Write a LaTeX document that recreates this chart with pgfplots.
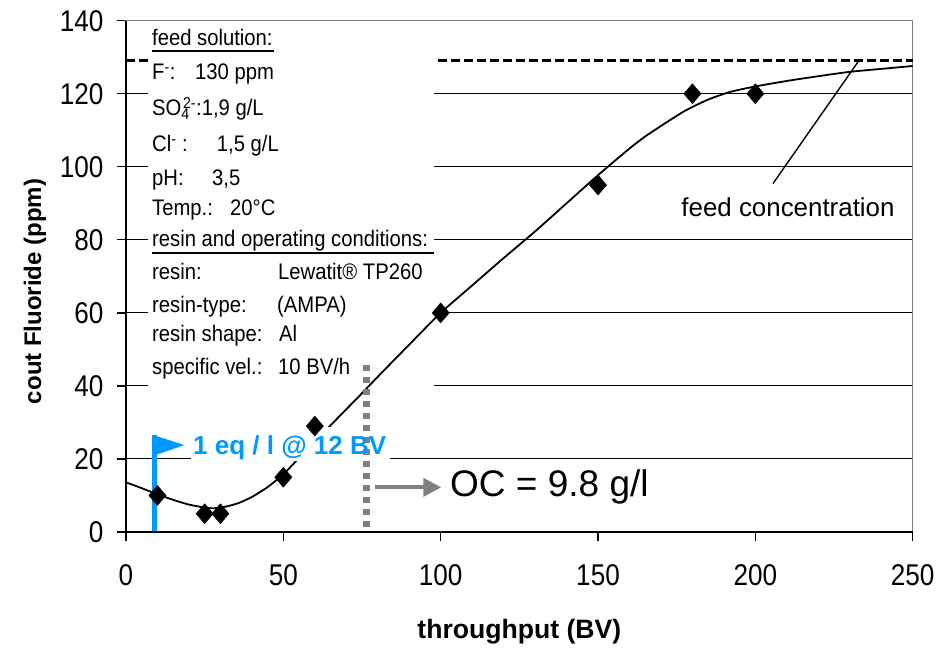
\documentclass[border=0pt]{standalone}
\usepackage{fontspec}
\setmainfont{Liberation Sans}
\newfontfamily\narrowfont[FakeStretch=0.87]{Liberation Sans}
\newfontfamily\boxfont[FakeStretch=0.9]{Liberation Sans}
\usepackage{pgfplots}
\pgfplotsset{compat=1.18}
\usetikzlibrary{arrows.meta}
\definecolor{flagblue}{RGB}{0,153,255}
\definecolor{dgray}{RGB}{128,128,128}
\newcommand{\bx}{\boxfont\fontsize{22.5}{26}\selectfont}
\begin{document}
\begin{tikzpicture}
\begin{axis}[
  at={(0,0)}, anchor=south west,
  scale only axis, width=786.7pt, height=511.3pt,
  xmin=0, xmax=250, ymin=0, ymax=140,
  xtick={0,50,...,250}, ytick={0,20,...,140},
  tick align=outside, tick pos=left,
  major tick length=9pt,
  ymajorgrids, grid style={black, line width=1pt},
  axis line style={dgray, line width=1.3pt},
  tick style={black, line width=1.3pt},
  ticklabel style={font=\narrowfont\fontsize{30}{30}\selectfont},
  /pgf/number format/assume math mode=true,
  xticklabel style={yshift=-20pt},
  yticklabel style={xshift=-10pt},
  xlabel={throughput (BV)},
  ylabel={cout Fluoride (ppm)},
  xlabel style={font=\bfseries\fontsize{26.6}{26.6}\selectfont, at={([yshift=-100pt]rel axis cs:0.5,0)}, anchor=center},
  ylabel style={font=\bfseries\fontsize{24}{24}\selectfont, at={([xshift=-91pt,yshift=-15pt]rel axis cs:0,0.5)}, anchor=center},
  clip=false,
]
% feed concentration line
\addplot[black, line width=3pt, dash pattern=on 9pt off 4pt] coordinates {(0,129.2) (250,129.2)};
% text box background
\fill[white] (axis cs:7,38.3) rectangle (axis cs:97.9,139.6);
% fitted curve
\addplot[black, line width=1.8pt, smooth, tension=0.4] coordinates {
(0,13.6) (5,12) (10,10.3) (15,8.8) (20,7.5) (25,6.7) (28,6.5) (32,7) (36,8) (40,9.6)
(45,12.3) (50,15.8) (55,20.3) (60,24.8) (65,29.2) (70,33.6) (75,38) (80,42.5) (90,51.3)
(100,60) (110,67.5) (120,75) (130,82.3) (140,90) (150,97.7) (160,105) (165,108.3)
(172,112.3) (178,115.5) (185,118.4) (192,120.5) (200,122) (210,123.5) (220,124.8)
(230,126) (240,126.8) (250,127.6)};
% measured points
\addplot[only marks, mark=diamond*, mark size=10pt, mark options={black, xscale=1.15}] coordinates {
(10,10) (25,5) (30,5) (50,15) (60,29) (100,60) (150,95) (180,120) (200,120)};
% label background
\fill[white] (axis cs:20.66,19.44) rectangle (axis cs:83.9,28.75);
% grey dotted line
\draw[dgray, line width=6.5pt, dash pattern=on 6pt off 6pt] (axis cs:76.4,1.4) -- (axis cs:76.4,47.1);
% blue flag
\node[anchor=base west, text=flagblue, font=\bfseries\fontsize{26}{26}\selectfont, inner sep=0pt]
  at ([xshift=67pt,yshift=77pt]rel axis cs:0,0) {1 eq / l @ 12 BV};
\draw[flagblue, line width=5pt] (axis cs:9.1,0) -- (axis cs:9.1,26.56);
\fill[flagblue] (axis cs:8.6,26.56) -- (axis cs:18.53,23.82) -- (axis cs:8.6,20.81) -- cycle;
% arrow and OC
\draw[dgray, line width=4pt, -{Triangle[length=18pt,width=18pt]}] (axis cs:79.0,12.24) -- (axis cs:100.2,12.24);
\node[anchor=west, font=\fontsize{37}{37}\selectfont, inner sep=0pt]
  at ([xshift=324pt,yshift=45pt]rel axis cs:0,0) {OC = 9.8 g/l};
% feed concentration annotation
\draw[black, line width=1.4pt] (axis cs:205.6,95.4) -- (axis cs:233,129.2);
\node[anchor=center, font=\fontsize{25.9}{26}\selectfont, inner sep=0pt]
  at ([xshift=662pt,yshift=325pt]rel axis cs:0,0) {feed concentration};
% text box contents
\begin{scope}[every node/.style={anchor=base west, inner sep=0pt, font=\bx}]
\node at ([xshift=26pt,yshift=486pt]rel axis cs:0,0) {feed solution:};
\node at ([xshift=26pt,yshift=452pt]rel axis cs:0,0) {F\textsuperscript{-}:};
\node at ([xshift=69pt,yshift=452pt]rel axis cs:0,0) {130 ppm};
\node at ([xshift=26pt,yshift=416.3pt]rel axis cs:0,0) {SO\textsubscript{4}\kern-0.3em\textsuperscript{2-}:1,9 g/L};
\node at ([xshift=26pt,yshift=380.3pt]rel axis cs:0,0) {Cl\textsuperscript{-} :};
\node at ([xshift=90.7pt,yshift=380.3pt]rel axis cs:0,0) {1,5 g/L};
\node at ([xshift=26pt,yshift=346.3pt]rel axis cs:0,0) {pH:};
\node at ([xshift=86pt,yshift=346.3pt]rel axis cs:0,0) {3,5};
\node at ([xshift=26pt,yshift=316pt]rel axis cs:0,0) {Temp.:};
\node at ([xshift=104pt,yshift=316pt]rel axis cs:0,0) {20°C};
\node at ([xshift=26pt,yshift=285.3pt]rel axis cs:0,0) {resin and operating conditions:};
\node at ([xshift=26pt,yshift=252pt]rel axis cs:0,0) {resin:};
\node at ([xshift=152pt,yshift=252pt]rel axis cs:0,0) {Lewatit® TP260};
\node at ([xshift=26pt,yshift=219pt]rel axis cs:0,0) {resin-type:};
\node at ([xshift=151pt,yshift=219pt]rel axis cs:0,0) {(AMPA)};
\node at ([xshift=26pt,yshift=190.3pt]rel axis cs:0,0) {resin shape:};
\node at ([xshift=153pt,yshift=190.3pt]rel axis cs:0,0) {Al};
\node at ([xshift=26pt,yshift=157pt]rel axis cs:0,0) {specific vel.:};
\node at ([xshift=152pt,yshift=157pt]rel axis cs:0,0) {10 BV/h};
\end{scope}
\draw[black, line width=2pt] ([xshift=26pt,yshift=481.3pt]rel axis cs:0,0) -- ([xshift=148pt,yshift=481.3pt]rel axis cs:0,0);
\draw[black, line width=2pt] ([xshift=26pt,yshift=279pt]rel axis cs:0,0) -- ([xshift=308pt,yshift=279pt]rel axis cs:0,0);
% black left and bottom axis lines
\draw[black, line width=1.3pt] (rel axis cs:0,1) -- (rel axis cs:0,0) -- (rel axis cs:1,0);
\end{axis}
\pgfresetboundingbox
\useasboundingbox (-126pt,-118pt) rectangle (814pt,532pt);
\end{tikzpicture}
\end{document}
